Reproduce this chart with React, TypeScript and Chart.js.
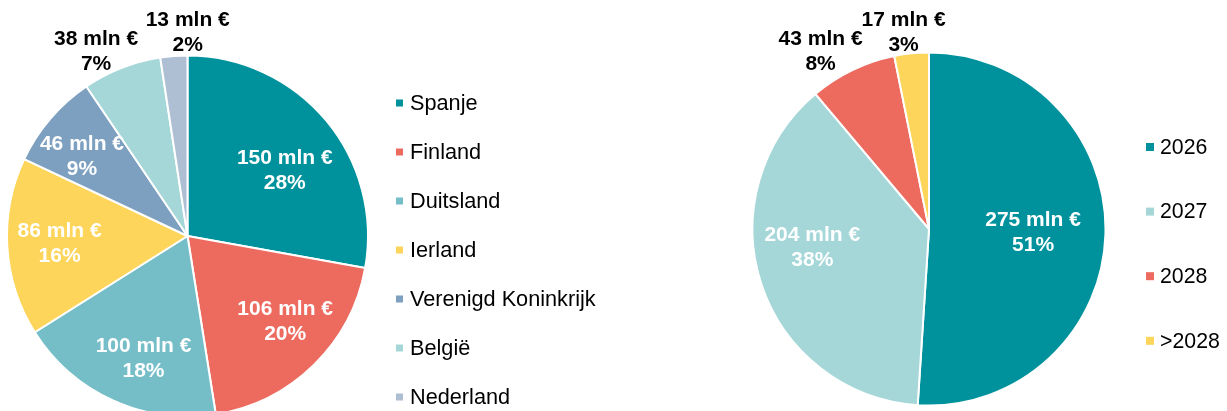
import React, { useEffect, useRef } from "react";
import { Chart, registerables } from "chart.js";

Chart.register(...registerables);

// ---- Data ----
const countryLabels = ["Spanje", "Finland", "Duitsland", "Ierland", "Verenigd Koninkrijk", "België", "Nederland"];
const countryValues = [150, 106, 100, 86, 46, 38, 13];
const countryPercents = ["28%", "20%", "18%", "16%", "9%", "7%", "2%"];

const yearLabels = ["2026", "2027", "2028", ">2028"];
const yearValues = [275, 204, 43, 17];
const yearPercents = ["51%", "38%", "8%", "3%"];

// ---- Styles ----
const countryColors = ["#00929C", "#EC6A5E", "#75BEC8", "#FDD55A", "#7DA0C0", "#A5D7D8", "#AEBFD3"];
const yearColors = ["#00929C", "#A5D7D8", "#EC6A5E", "#FDD55A"];

const countryLabelRadius = [0.65, 0.72, 0.72, 0.71, 0.73, 1.14, 1.125];
const countryLabelShift = [5.9, -4.3, -4.6, -0.1, -3.8, -5.0, 4.4];
const countryLabelColors = ["#fff", "#fff", "#fff", "#fff", "#fff", "#000", "#000"];

const yearLabelRadius = [0.59, 0.67, 1.175, 1.12];
const yearLabelShift = [0.35, 8.9, -5.8, -1.7];
const yearLabelColors = ["#fff", "#fff", "#000", "#000"];

const FONT = '"Liberation Sans", Arial, Helvetica, sans-serif';

type Cfg = {
  percents: string[];
  colors: string[];
  radiusFrac: number[];
  angleShift: number[];
  labelColors: string[];
  labelFont: number;
  lineGap: number;
  legendFont: number;
  legendX: number;
  legendTextX: number;
  legendY0: number;
  legendStep: number;
  box: number;
};

function makePlugin(cfg: Cfg) {
  return {
    id: "customLabels",
    afterDatasetsDraw(chart: any) {
      const ctx = chart.ctx as CanvasRenderingContext2D;
      const meta = chart.getDatasetMeta(0);
      const ds = chart.data.datasets[0];
      ctx.save();
      ctx.font = `bold ${cfg.labelFont}px ${FONT}`;
      ctx.textAlign = "center";
      ctx.textBaseline = "middle";
      meta.data.forEach((arc: any, i: number) => {
        const p = arc.getProps(["x", "y", "startAngle", "endAngle", "outerRadius"], true);
        const mid = (p.startAngle + p.endAngle) / 2 + (cfg.angleShift[i] * Math.PI) / 180;
        const r = p.outerRadius * cfg.radiusFrac[i];
        const px = p.x + r * Math.cos(mid);
        const py = p.y + r * Math.sin(mid);
        ctx.fillStyle = cfg.labelColors[i];
        ctx.fillText(`${ds.data[i]} mln €`, px, py - cfg.lineGap / 2);
        ctx.fillText(cfg.percents[i], px, py + cfg.lineGap / 2);
      });
      ctx.font = `${cfg.legendFont}px ${FONT}`;
      ctx.textAlign = "left";
      (chart.data.labels as string[]).forEach((lab, i) => {
        const yy = cfg.legendY0 + i * cfg.legendStep;
        ctx.fillStyle = cfg.colors[i];
        ctx.fillRect(cfg.legendX, yy - cfg.box / 2, cfg.box, cfg.box);
        ctx.fillStyle = "#000";
        ctx.fillText(lab, cfg.legendTextX, yy + 1);
      });
      ctx.restore();
    },
  };
}

function PieCanvas(props: {
  labels: string[];
  values: number[];
  cfg: Cfg;
  width: number;
  height: number;
  left: number;
  padding: { left: number; right: number; top: number; bottom: number };
}) {
  const ref = useRef<HTMLCanvasElement | null>(null);
  useEffect(() => {
    if (!ref.current) return;
    const chart = new Chart(ref.current, {
      type: "pie",
      data: {
        labels: props.labels,
        datasets: [
          {
            data: props.values,
            backgroundColor: props.cfg.colors,
            borderColor: "#ffffff",
            borderWidth: 2,
          },
        ],
      },
      options: {
        responsive: false,
        animation: false,
        devicePixelRatio: 1,
        layout: { padding: props.padding },
        plugins: {
          legend: { display: false },
          tooltip: { enabled: false },
        },
      },
      plugins: [makePlugin(props.cfg)],
    });
    return () => chart.destroy();
  }, []);
  return (
    <canvas
      ref={ref}
      width={props.width}
      height={props.height}
      style={{ position: "absolute", left: props.left, top: 0, width: props.width, height: props.height }}
    />
  );
}

export default function App() {
  const leftCfg: Cfg = {
    percents: countryPercents,
    colors: countryColors,
    radiusFrac: countryLabelRadius,
    angleShift: countryLabelShift,
    labelColors: countryLabelColors,
    labelFont: 21,
    lineGap: 25,
    legendFont: 21.7,
    legendX: 396,
    legendTextX: 410,
    legendY0: 103,
    legendStep: 49,
    box: 7,
  };
  const rightCfg: Cfg = {
    percents: yearPercents,
    colors: yearColors,
    radiusFrac: yearLabelRadius,
    angleShift: yearLabelShift,
    labelColors: yearLabelColors,
    labelFont: 21,
    lineGap: 25,
    legendFont: 21.3,
    legendX: 526,
    legendTextX: 540,
    legendY0: 147,
    legendStep: 64.6,
    box: 8,
  };
  return (
    <div
      style={{
        position: "fixed",
        left: 0,
        top: 0,
        width: 1227,
        height: 411,
        overflow: "hidden",
        background: "#fff",
      }}
    >
      <PieCanvas
        labels={countryLabels}
        values={countryValues}
        cfg={leftCfg}
        width={620}
        height={430}
        left={0}
        padding={{ left: 6, right: 251, top: 54.5, bottom: 12.5 }}
      />
      <PieCanvas
        labels={yearLabels}
        values={yearValues}
        cfg={rightCfg}
        width={607}
        height={430}
        left={620}
        padding={{ left: 131.5, right: 120.5, top: 51.5, bottom: 23.5 }}
      />
    </div>
  );
}
